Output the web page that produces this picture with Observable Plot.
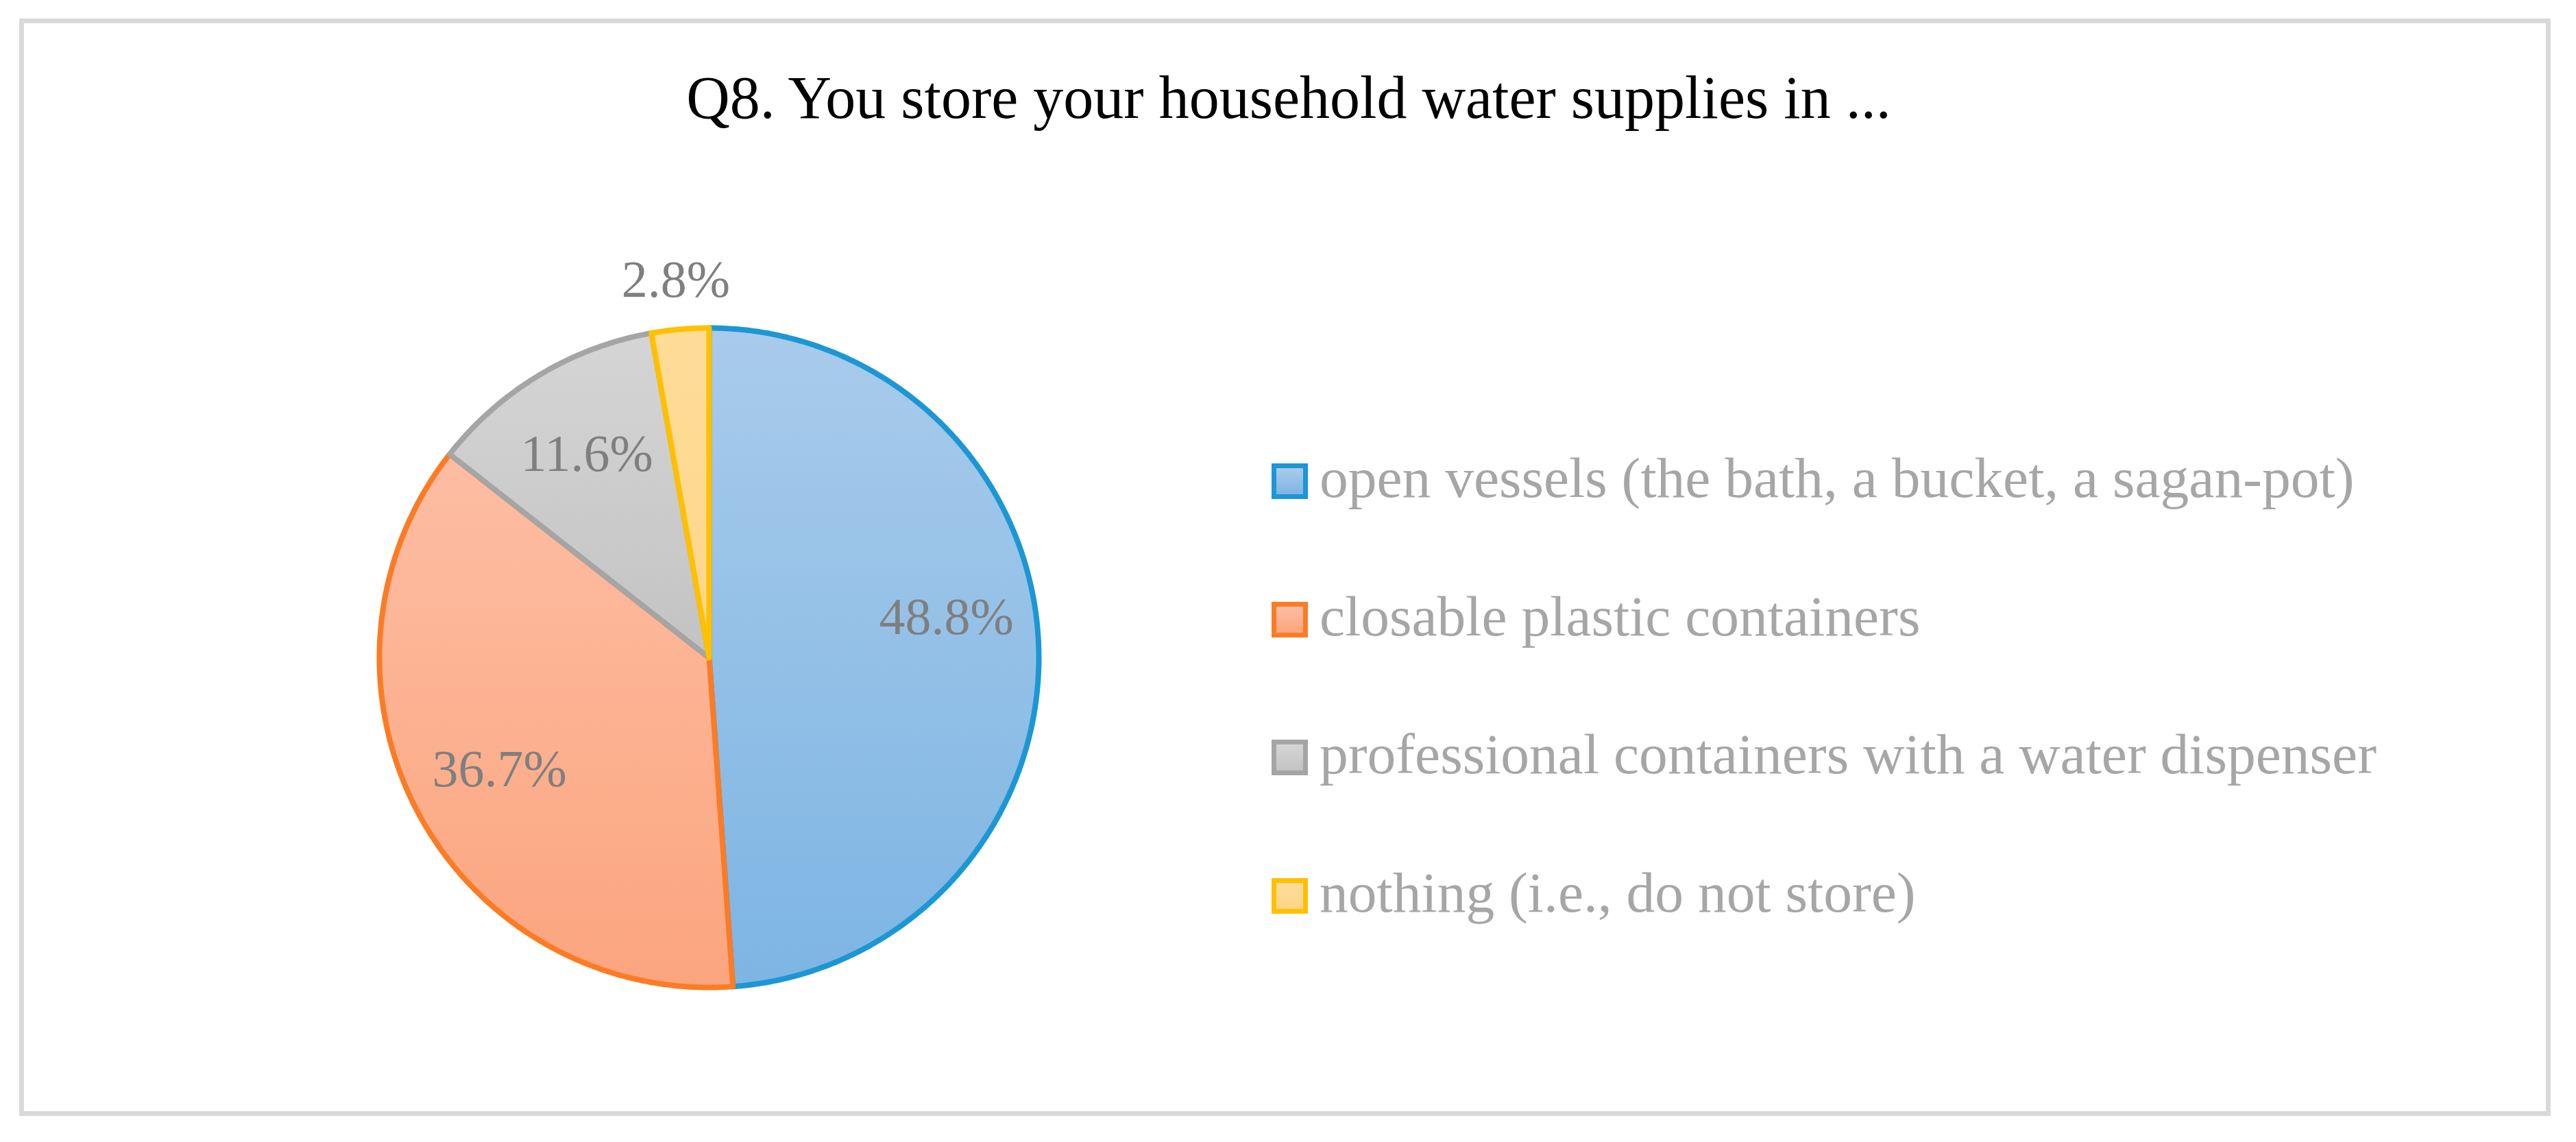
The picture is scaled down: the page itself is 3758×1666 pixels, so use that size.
<!DOCTYPE html>
<html>
<head>
<meta charset="utf-8">
<script src="https://cdn.jsdelivr.net/npm/d3@7"></script>
<script src="https://cdn.jsdelivr.net/npm/@observablehq/plot@0.6"></script>
<style>
  html, body { margin: 0; padding: 0; background: #fff; }
  #page { position: relative; width: 3758px; height: 1666px; overflow: hidden; font-family: "Liberation Serif", serif; }
  #frame { position: absolute; left: 28px; top: 27px; width: 3693px; height: 1601px; border: 7px solid #d9d9d9; box-sizing: border-box; }
  #title { position: absolute; left: 0; width: 3760px; top: 99px; text-align: center; font-size: 88px; line-height: 88px; color: #000; white-space: nowrap; }
  #chart { position: absolute; left: 0; top: 230px; }
  #legend { position: absolute; left: 1855px; top: 601px; }
  .item { display: flex; align-items: center; height: 201.7px; }
  .sw { width: 53px; height: 52px; box-sizing: border-box; border: 7px solid; margin-right: 17px; flex: none; }
  .lab { font-size: 83.5px; line-height: 84px; color: #a6a6a6; white-space: nowrap; position: relative; top: -5px; }
</style>
</head>
<body>
<div id="page">
  <div id="frame"></div>
  <div id="title">Q8. You store your household water supplies in ...</div>
  <div id="chart"></div>
  <div id="legend"></div>
</div>
<script>
// ---- data ----
const categories = [
  "open vessels (the bath, a bucket, a sagan-pot)",
  "closable plastic containers",
  "professional containers with a water dispenser",
  "nothing (i.e., do not store)"
];
const shares = [48.8, 36.7, 11.6, 2.8];
const strokeColors = ["#1c97d4", "#fb7c25", "#a5a5a5", "#ffc000"];
const fillTop = ["#a9cbeb", "#fdbda3", "#d5d5d5", "#fedc98"];
const fillBottom = ["#7db5e3", "#fba57e", "#c3c3c3", "#fed68a"];

// ---- pie geometry (unit circle, clockwise from 12 o'clock) ----
const arcs = d3.pie().sort(null).value(d => d)(shares);
const wedgePoints = arcs.flatMap((a, i) => {
  const n = Math.max(2, Math.ceil((a.endAngle - a.startAngle) / (Math.PI / 360)));
  const pts = [{k: i, x: 0, y: 0}];
  for (let j = 0; j <= n; j++) {
    const t = a.startAngle + (a.endAngle - a.startAngle) * j / n;
    pts.push({k: i, x: Math.sin(t), y: Math.cos(t)});
  }
  pts.push({k: i, x: 0, y: 0});
  return pts;
});
const labels = arcs.map((a, i) => {
  const mid = (a.startAngle + a.endAngle) / 2;
  const r = shares[i] < 5 ? 1.15 : 0.72;
  return {i, x: r * Math.sin(mid), y: r * Math.cos(mid), text: shares[i].toFixed(1) + "%"};
});
const largest = d3.maxIndex(shares);

const cx = 1034, cy = 729, R = 481;
const labelStyle = {x: "x", y: "y", text: "text", fill: "#7f7f7f", fontSize: 76, fontFamily: "Liberation Serif"};
const chart = Plot.plot({
  width: 1800,
  height: 1400,
  margin: 0,
  x: {domain: [-1, 1], range: [cx - R, cx + R], axis: null},
  y: {domain: [-1, 1], range: [cy + R, cy - R], axis: null},
  color: {type: "identity"},
  style: {background: "transparent", overflow: "visible"},
  marks: [
    Plot.line(wedgePoints, {
      x: "x", y: "y", z: "k",
      fill: d => `url(#grad${d.k})`,
      stroke: d => strokeColors[d.k],
      strokeWidth: 8,
      strokeLinejoin: "round",
      curve: "linear"
    }),
    Plot.text(labels.filter(d => d.i !== largest), labelStyle),
    Plot.text(labels.filter(d => d.i === largest), {...labelStyle, dy: -46})
  ]
});

const defs = d3.select(chart).insert("defs", ":first-child");
shares.forEach((_, i) => {
  const g = defs.append("linearGradient").attr("id", `grad${i}`)
    .attr("x1", 0).attr("y1", 0).attr("x2", 0).attr("y2", 1);
  g.append("stop").attr("offset", "0%").attr("stop-color", fillTop[i]);
  g.append("stop").attr("offset", "100%").attr("stop-color", fillBottom[i]);
});
document.getElementById("chart").appendChild(chart);

// ---- legend ----
const legend = d3.select("#legend");
categories.forEach((c, i) => {
  const item = legend.append("div").attr("class", "item");
  item.append("div").attr("class", "sw")
    .style("border-color", strokeColors[i])
    .style("background", `linear-gradient(${fillTop[i]}, ${fillBottom[i]})`);
  item.append("div").attr("class", "lab").text(c);
});
</script>
</body>
</html>
